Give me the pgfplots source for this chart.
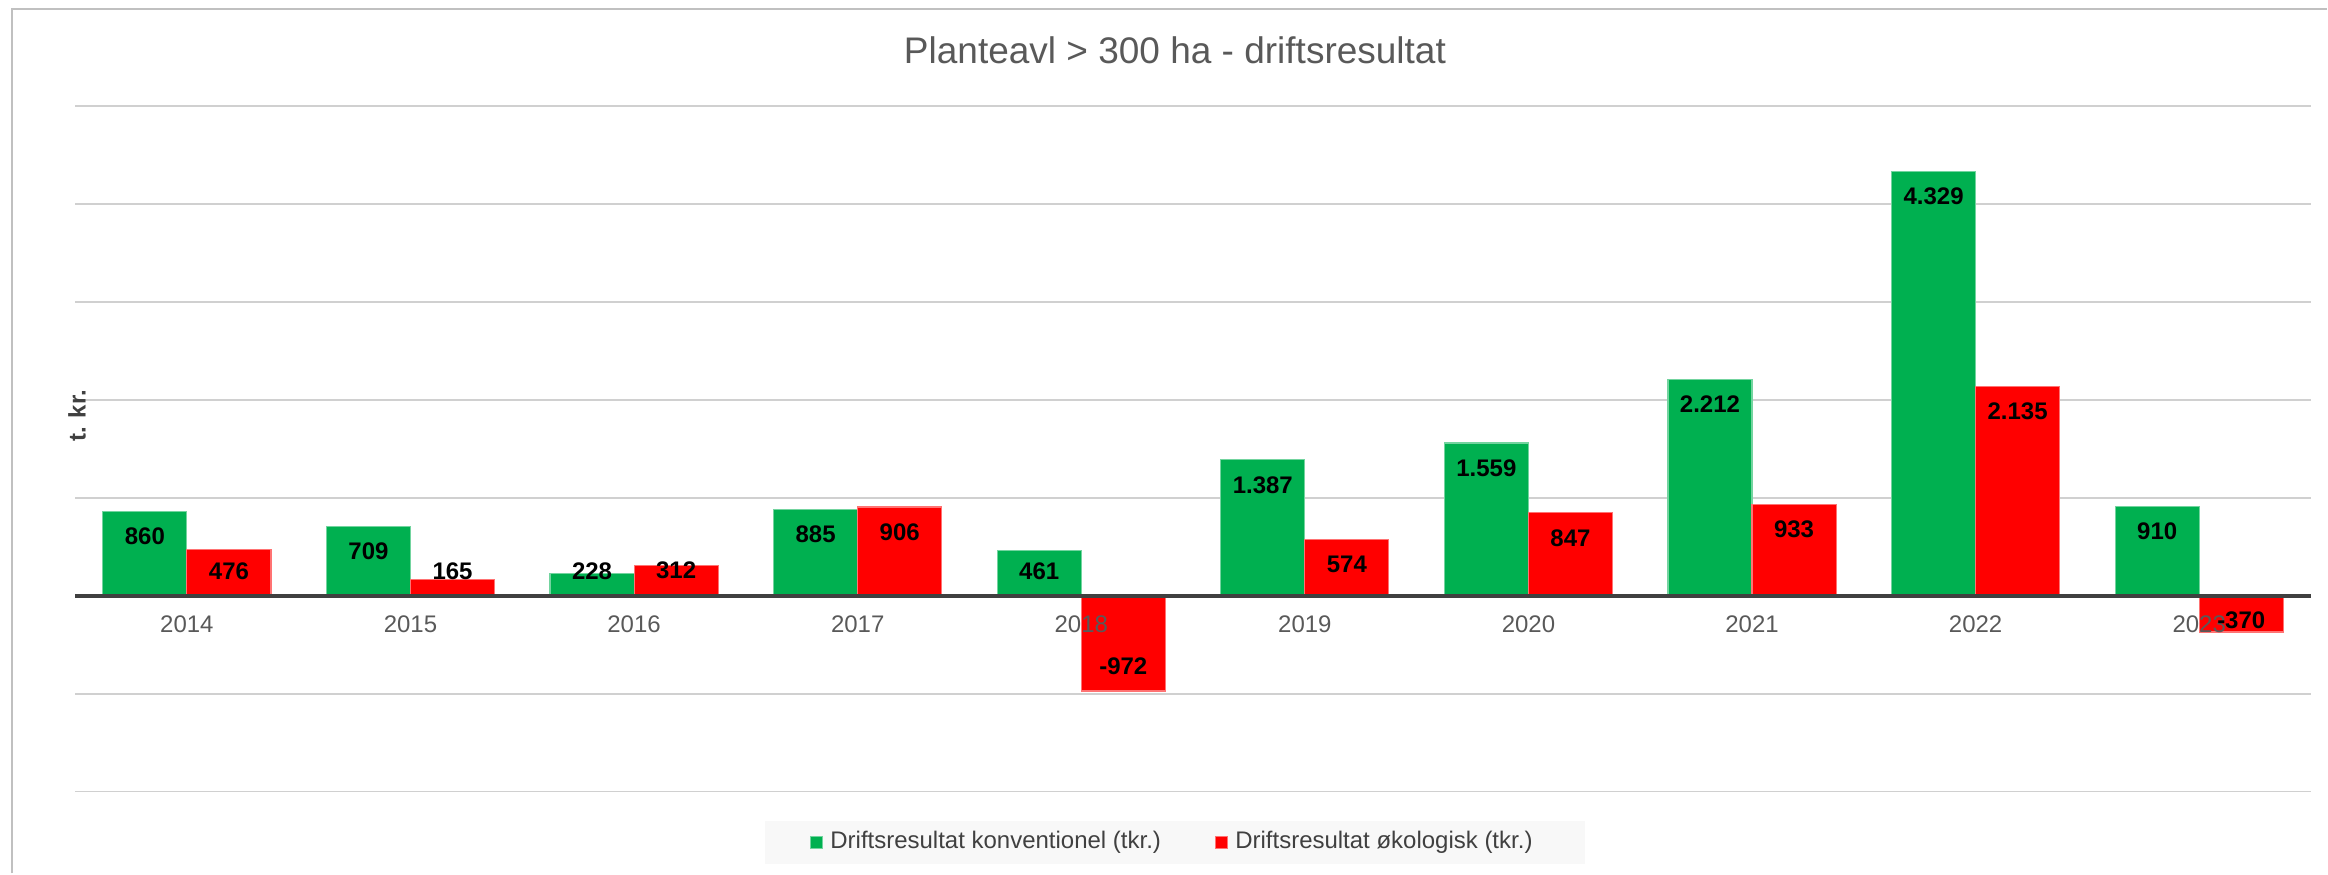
\documentclass[border=0pt]{standalone}
\usepackage{fontspec}
\setmainfont{Liberation Sans}
\usepackage{pgfplots}
\pgfplotsset{compat=1.18}
\definecolor{cgreen}{HTML}{00B050}
\definecolor{cred}{HTML}{FF0000}
\definecolor{gridc}{HTML}{D0D0D0}
\definecolor{txt}{HTML}{595959}
\definecolor{axisgray}{HTML}{404040}
\definecolor{framec}{HTML}{C0C0C0}
\definecolor{legbg}{HTML}{F8F8F8}
\newcommand\sm{\fontsize{6.45}{7.7}\selectfont}
\begin{document}
\begin{tikzpicture}
\path (0,0) rectangle (625.8pt,234.9pt);
\draw[framec, line width=0.55pt] (3.2pt,0pt) -- (3.2pt,232.5pt) -- (625.8pt,232.5pt);
\begin{axis}[
  axis on top,
  at={(20.2pt,22pt)}, anchor=south west, name=ax,
  scale only axis, width=601.3pt, height=184.4pt,
  xmin=-0.5, xmax=9.5, ymin=-2000, ymax=5000,
  ybar=0pt, bar width=0.376,
  axis line style={draw=none},
  ytick=\empty,
  major tick length=0pt,
  xtick={0,1,2,3,4,5,6,7,8,9},
  xticklabels={2014,2015,2016,2017,2018,2019,2020,2021,2022,2023},
  xticklabel style={anchor=base, yshift=42.7pt, font=\sm, text=txt},
  ylabel={t. kr.},
  every axis y label/.style={at={(axis description cs:0.0009,0.548)}, rotate=90, anchor=center, font=\sm\bfseries, text=axisgray},
  title={Planteavl > 300 ha - driftsresultat},
  every axis title/.style={at={(axis description cs:0.4919,1)}, anchor=base, yshift=11.3pt, font=\fontsize{9.95}{12}\selectfont, text=txt},
  legend columns=2,
  legend style={at={(axis description cs:0.4919,-0.0743)}, anchor=center, fill=legbg, draw=none, font=\sm, text=axisgray, inner xsep=12pt, inner ysep=0.6pt, /tikz/column 2/.style={column sep=12.5pt}},
  legend image code/.code={\fill[#1] (0pt,-1.6pt) rectangle (3.2pt,1.6pt);},
  nodes near coords={\pgfmathprintnumber[fixed,precision=0,1000 sep={.},assume math mode=true]{\pgfplotspointmeta}},
  visualization depends on={y \as \rawy},
  every node near coord/.append style={anchor=center, font=\sm\bfseries, text=black, yshift={-sign(\rawy)*min(6.72,abs(\rawy)*0.02634-6.72)*1pt}},
]
\pgfplotsinvokeforeach{-2000,-1000,1000,2000,3000,4000,5000}{
  \draw[gridc, line width=0.5pt] (axis cs:-0.5,#1) -- (axis cs:9.5,#1);
}
\addplot[fill=cgreen, draw=cgreen!55!white, line width=0.3pt, bar shift=-0.188]
  coordinates {(0,860) (1,709) (2,228) (3,885) (4,461) (5,1387) (6,1559) (7,2212) (8,4329) (9,910)};
\addlegendentry{Driftsresultat konventionel (tkr.)}
\addplot[fill=cred, draw=cred!55!white, line width=0.3pt, bar shift=0.188]
  coordinates {(0,476) (1,165) (2,312) (3,906) (4,-972) (5,574) (6,847) (7,933) (8,2135) (9,-370)};
\addlegendentry{Driftsresultat økologisk (tkr.)}
\draw[axisgray, line width=1.1pt] (axis cs:-0.5,0) -- (axis cs:9.5,0);
\end{axis}
\end{tikzpicture}
\end{document}
